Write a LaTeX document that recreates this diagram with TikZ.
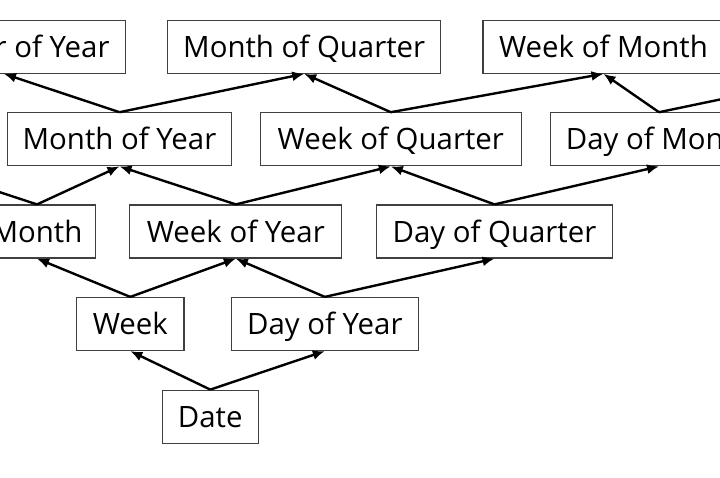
\documentclass[tikz,border=0pt]{standalone}
\usepackage{fontspec}
\setmainfont{Open Sans}
\usetikzlibrary{arrows.meta}
\tikzset{
	lvlbox/.style={draw=black!75, line width=0.6pt, inner sep=0pt, minimum height=26.5pt, text height=10.5pt, text depth=0pt, font=\fontsize{14.7}{17}\selectfont},
	uparrow/.style={line width=1.2pt, -{Latex[length=6pt,width=5pt]}}
}

\begin{document}
\begin{tikzpicture}[x=0.5pt,y=-0.5pt]
			%%%%% START %%%%%
			\useasboundingbox (0, 0) rectangle (720, 478);
			\clip (0, 0) rectangle (720, 478);
			
			% top row
			\node[lvlbox, minimum width=121.5pt] (qoy) at (4, 46.7) {Quarter of Year};
			\node[lvlbox, minimum width=136.5pt] (moq) at (304.2, 46.7) {Month of Quarter};
			\node[lvlbox, minimum width=120.5pt] (wom) at (603.5, 46.7) {Week of Month};
			
			\node[lvlbox, minimum width=111.8pt] (moy) at (119.5, 139.3) {Month of Year};
			\node[lvlbox, minimum width=130.5pt] (woq) at (390.8, 139.3) {Week of Quarter};
			\node[lvlbox, minimum width=108.5pt] (dom) at (659, 139.3) {Day of Month};
			
			\node[lvlbox, minimum width=58.7pt] (mon) at (37, 231.5) {Month};
			\node[lvlbox, minimum width=105.9pt] (woy) at (235.8, 231.5) {Week of Year};
			\node[lvlbox, minimum width=117.8pt] (doq) at (494.5, 231.5) {Day of Quarter};
			
			\node[lvlbox, minimum width=53.7pt] (wk) at (130.3, 324) {Week};
			\node[lvlbox, minimum width=93.5pt] (doy) at (324.8, 324) {Day of Year};
			
			\node[lvlbox, minimum width=48pt] (date) at (210.3, 416.7) {Date};
			
			% ends that run out of the picture
			\coordinate (offleft) at (-80, 166);
			\coordinate (offright) at (847, 73);
			
			\draw[uparrow] (date.north) -- (wk.south);
			\draw[uparrow] (date.north) -- (doy.south);
			
			\draw[uparrow] (wk.north) -- (mon.south);
			\draw[uparrow] (wk.north) -- (woy.south);
			\draw[uparrow] (doy.north) -- (woy.south);
			\draw[uparrow] (doy.north) -- (doq.south);
			
			\draw[uparrow] (mon.north) -- (offleft);
			\draw[uparrow] (mon.north) -- (moy.south);
			\draw[uparrow] (woy.north) -- (moy.south);
			\draw[uparrow] (woy.north) -- (woq.south);
			\draw[uparrow] (doq.north) -- (woq.south);
			\draw[uparrow] (doq.north) -- (dom.south);
			
			\draw[uparrow] (moy.north) -- (qoy.south);
			\draw[uparrow] (moy.north) -- (moq.south);
			\draw[uparrow] (woq.north) -- (moq.south);
			\draw[uparrow] (woq.north) -- (wom.south);
			\draw[uparrow] (dom.north) -- (wom.south);
			\draw[uparrow] (dom.north) -- (offright);
			%%%%% END %%%%%
\end{tikzpicture}
\end{document}
